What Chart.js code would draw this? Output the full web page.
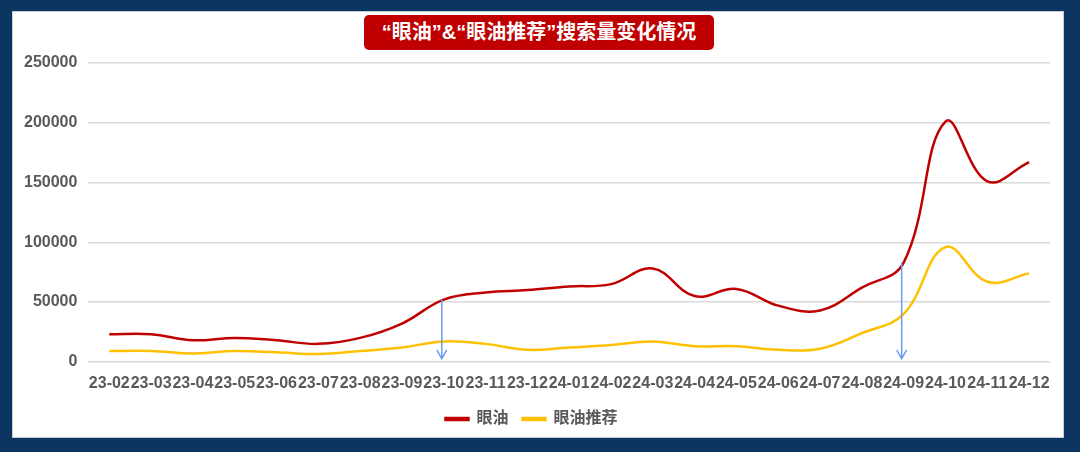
<!DOCTYPE html>
<html>
<head>
<meta charset="utf-8">
<script src="https://cdn.jsdelivr.net/npm/chart.js@4.4.1/dist/chart.umd.min.js"></script>
<style>
  html, body { margin: 0; padding: 0; }
  body { width: 1080px; height: 452px; background: #0c3561; position: relative; overflow: hidden; }
  #panel { position: absolute; left: 12px; top: 11px; width: 1052px; height: 427px; background: #fff; box-sizing: border-box; border: 1px solid #c8ccd2; }
  #titulo { position: absolute; left: 364px; top: 15px; width: 350px; height: 35px; background: #c00000; border-radius: 5px;
            color: #fff; font: bold 20px Arial, "Liberation Sans", "Noto Sans CJK SC", sans-serif; line-height: 35px; text-align: center; }
  canvas { position: absolute; left: 0; top: 0; }
</style>
</head>
<body>
<div id="panel">
  <canvas id="grafica" width="1050" height="425"></canvas>
</div>
<div id="titulo">“眼油”&amp;“眼油推荐”搜索量变化情况</div>
<script>
const meses = ['23-02','23-03','23-04','23-05','23-06','23-07','23-08','23-09','23-10','23-11','23-12',
  '24-01','24-02','24-03','24-04','24-05','24-06','24-07','24-08','24-09','24-10','24-11','24-12'];
const yanyou = [23000, 23000, 18000, 20000, 18000, 15000, 20000, 32000, 52000, 58000, 60000,
  63000, 65000, 78000, 55000, 61000, 47000, 43000, 62000, 83000, 201000, 151000, 167000];
const tuijian = [9000, 9000, 7000, 9000, 8000, 6500, 9000, 12000, 17000, 15000, 10000,
  12000, 14000, 17000, 13000, 13000, 10000, 11000, 24000, 40000, 96000, 67000, 74000];
const flechas = ['23-10', '24-09'];

const fuente = 'Arial, "Liberation Sans", "Noto Sans CJK SC", sans-serif';

// flechas azules desde la curva roja hasta el eje
const pluginFlechas = {
  id: 'flechas',
  afterDatasetsDraw(chart) {
    const { ctx, scales: { x, y } } = chart;
    ctx.save();
    ctx.strokeStyle = '#6d9eeb';
    ctx.lineWidth = 1.5;
    flechas.forEach(mes => {
      const i = meses.indexOf(mes);
      const px = x.getPixelForValue(i) - 2;
      const y1 = y.getPixelForValue(yanyou[i]);
      const y2 = y.getPixelForValue(0) - 3;
      ctx.beginPath();
      ctx.moveTo(px, y1);
      ctx.lineTo(px, y2);
      ctx.moveTo(px - 5, y2 - 9);
      ctx.lineTo(px, y2);
      ctx.lineTo(px + 5, y2 - 9);
      ctx.stroke();
    });
    ctx.restore();
  }
};

new Chart(document.getElementById('grafica'), {
  type: 'line',
  data: {
    labels: meses,
    datasets: [{
      label: '眼油',
      data: yanyou,
      borderColor: '#c00000',
      backgroundColor: '#c00000',
      borderWidth: 2.5,
      tension: 0.4,
      pointRadius: 0
    }, {
      label: '眼油推荐',
      data: tuijian,
      borderColor: '#ffc000',
      backgroundColor: '#ffc000',
      borderWidth: 2.5,
      tension: 0.4,
      pointRadius: 0
    }]
  },
  options: {
    responsive: false,
    animation: false,
    layout: { padding: { top: 51, left: 0, right: 13, bottom: 0 } },
    scales: {
      x: {
        offset: true,
        grid: { display: false },
        border: { display: false },
        ticks: {
          autoSkip: false, maxRotation: 0, minRotation: 0, padding: 4,
          color: '#595959', font: { family: fuente, size: 16, weight: 'bold' }
        }
      },
      y: {
        min: 0, max: 250000,
        grid: { color: '#d9d9d9', lineWidth: 1.5, drawTicks: false },
        border: { display: false },
        ticks: {
          stepSize: 50000, padding: 11,
          callback: v => String(v),
          color: '#595959', font: { family: fuente, size: 16, weight: 'bold' }
        }
      }
    },
    plugins: {
      legend: {
        position: 'bottom',
        labels: {
          boxWidth: 23, boxHeight: 2, padding: 14,
          color: '#595959', font: { family: fuente, size: 16, weight: 'bold' }
        }
      },
      tooltip: { enabled: false }
    }
  },
  plugins: [pluginFlechas]
});
</script>
</body>
</html>
